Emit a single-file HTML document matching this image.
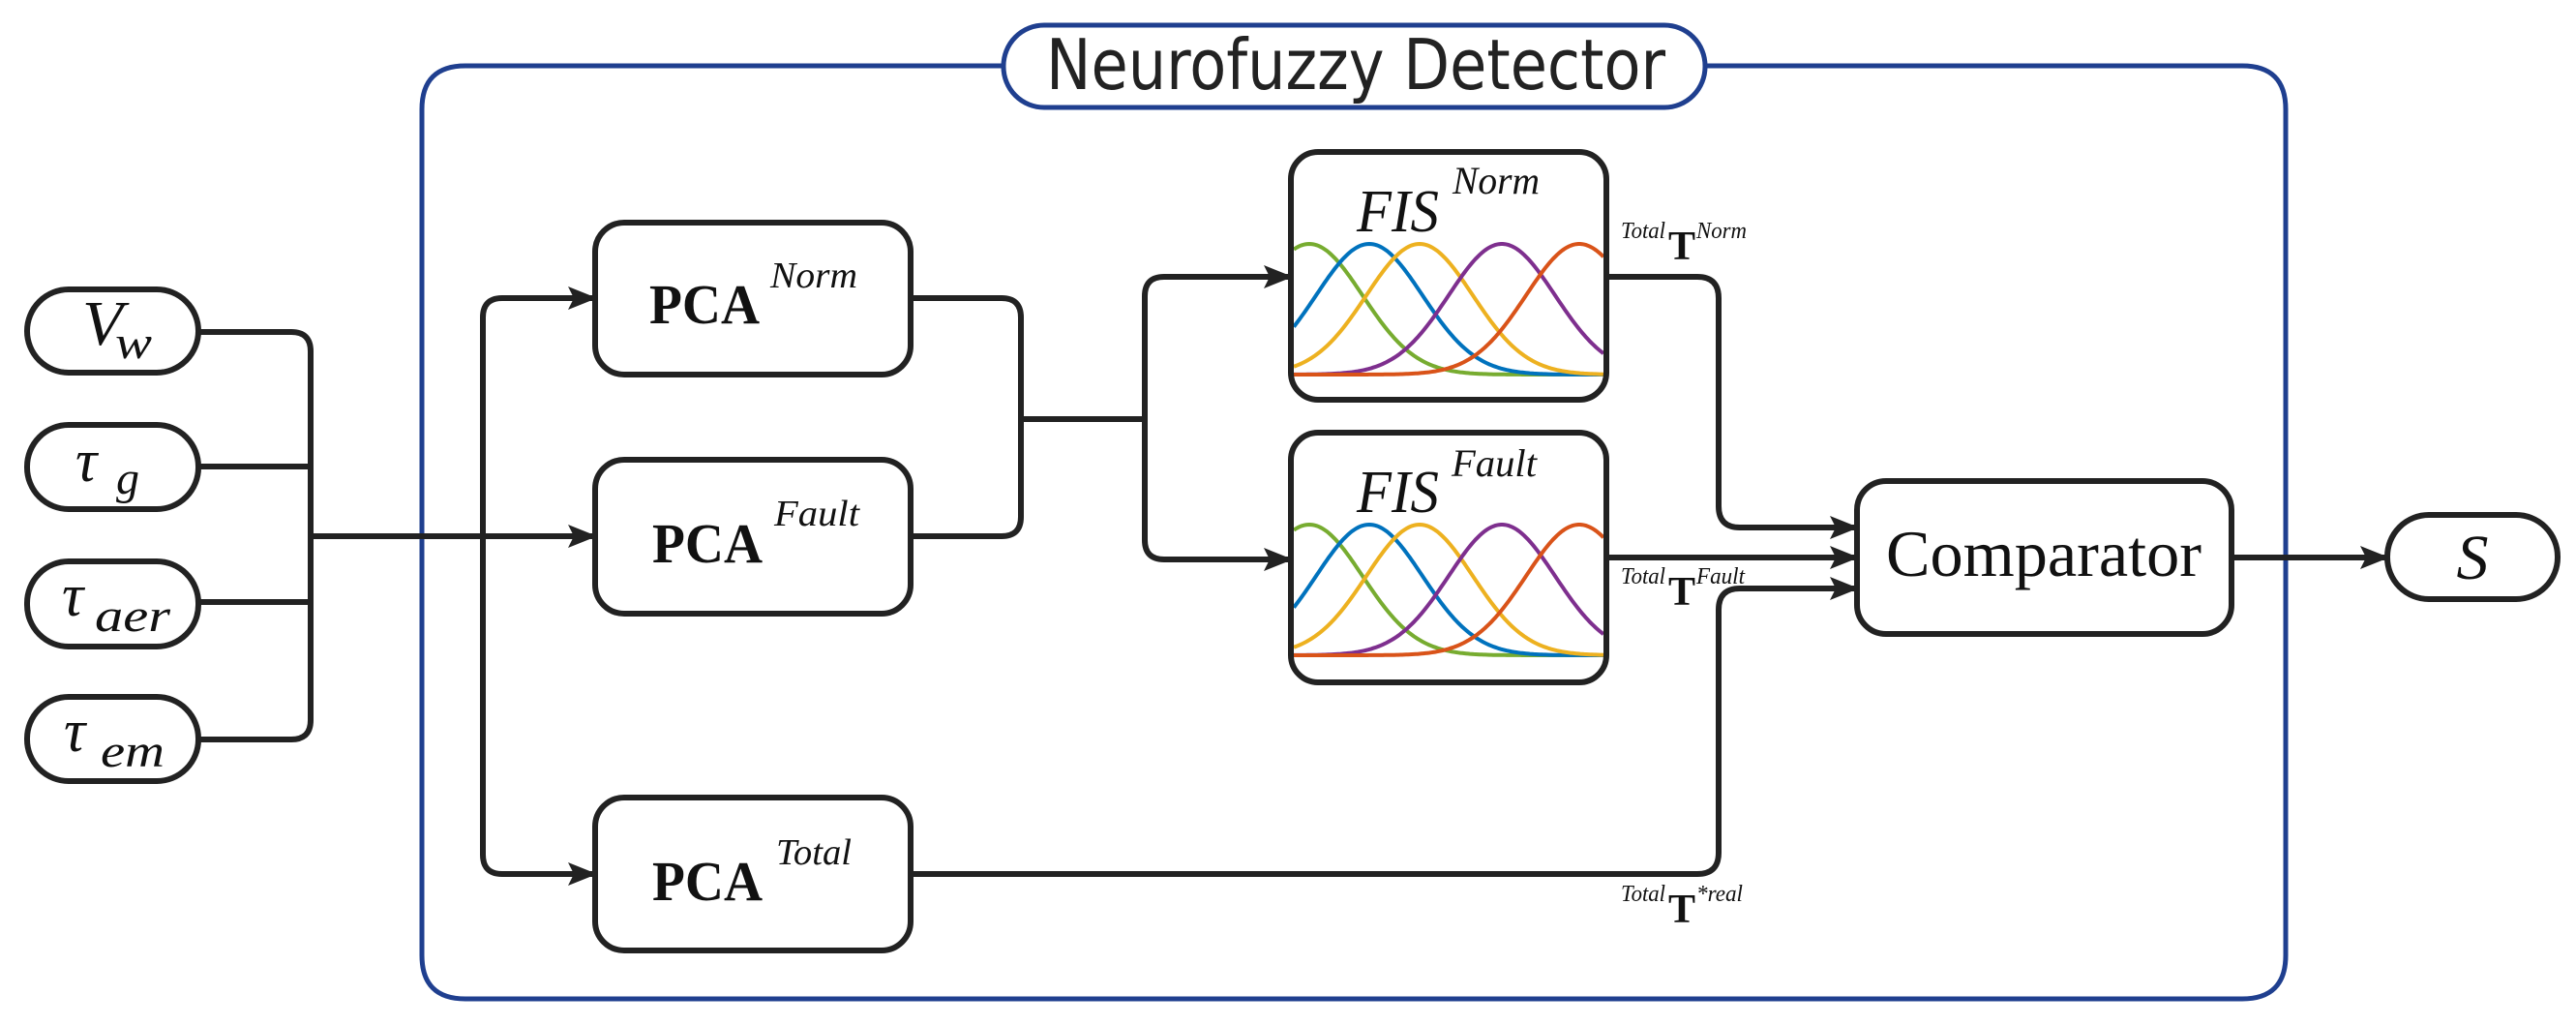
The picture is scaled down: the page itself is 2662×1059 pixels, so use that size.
<!DOCTYPE html>
<html><head><meta charset="utf-8"><style>
html,body{margin:0;padding:0;background:#fff;}
svg{display:block;}
.s{font-family:"Liberation Serif","DejaVu Serif",serif;fill:#111;}
</style></head><body>
<svg id="sv" width="2662" height="1059" viewBox="0 0 2662 1059" xmlns="http://www.w3.org/2000/svg">
<defs>
<marker id="ar" markerWidth="30" markerHeight="24" refX="28" refY="12" orient="auto" markerUnits="userSpaceOnUse">
<path d="M0,0 L30,12 L0,24 L6,12 Z" fill="#222"/>
</marker>
</defs>
<path d="M1040,68 L481,68 Q436,68 436,113 L436,987 Q436,1032 481,1032 L2317,1032 Q2362,1032 2362,987 L2362,113 Q2362,68 2317,68 L1760,68" fill="none" stroke="#1f3f8f" stroke-width="5"/>
<rect x="1037" y="26" width="725" height="85" rx="42" fill="#fff" stroke="#1f3f8f" stroke-width="5"/>
<text x="1081" y="92" textLength="640" lengthAdjust="spacingAndGlyphs" font-family="'DejaVu Sans','Liberation Sans',sans-serif" font-size="72" fill="#222">Neurofuzzy Detector</text>

<g fill="none" stroke="#222" stroke-width="6">
<rect x="28" y="299" width="177" height="86" rx="43" fill="#fff"/>
<rect x="28" y="439" width="177" height="87" rx="43" fill="#fff"/>
<rect x="28" y="580" width="177" height="88" rx="43" fill="#fff"/>
<rect x="28" y="720" width="177" height="87" rx="43" fill="#fff"/>
<path d="M205,343 L301,343 Q321,343 321,363 L321,744 Q321,764 301,764 L205,764"/>
<path d="M205,482 L321,482 M205,622 L321,622"/>
<path d="M321,554 L615,554" marker-end="url(#ar)"/>
<path d="M615,308 L519,308 Q499,308 499,328 L499,883 Q499,903 519,903 L615,903" />
<path d="M560,308 L615,308" marker-end="url(#ar)"/>
<path d="M560,903 L615,903" marker-end="url(#ar)"/>
<rect x="615" y="230" width="326" height="157" rx="30" fill="#fff"/>
<rect x="615" y="475" width="326" height="159" rx="30" fill="#fff"/>
<rect x="615" y="824" width="326" height="158" rx="30" fill="#fff"/>
<path d="M941,308 L1035,308 Q1055,308 1055,328 L1055,534 Q1055,554 1035,554 L941,554"/>
<path d="M1055,433 L1183,433"/>
<path d="M1334,286 L1203,286 Q1183,286 1183,306 L1183,558 Q1183,578 1203,578 L1334,578"/>
<path d="M1290,286 L1334,286" marker-end="url(#ar)"/>
<path d="M1290,578 L1334,578" marker-end="url(#ar)"/>
<path d="M1660,286 L1754,286 Q1776,286 1776,308 L1776,523 Q1776,545 1798,545 L1919,545" marker-end="url(#ar)"/>
<path d="M1660,576 L1919,576" marker-end="url(#ar)"/>
<path d="M941,903 L1754,903 Q1776,903 1776,881 L1776,630 Q1776,608 1798,608 L1919,608" marker-end="url(#ar)"/>
<rect x="1919" y="497" width="387" height="158" rx="30" fill="#fff"/>
<path d="M2306,576 L2467,576" marker-end="url(#ar)"/>
<rect x="2467" y="532" width="176" height="87" rx="43" fill="#fff"/>
</g>

<g id="fis1"></g><g id="fis2"></g>
<rect x="1334" y="157" width="326" height="256" rx="28" fill="none" stroke="#222" stroke-width="6"/>
<rect x="1334" y="447" width="326" height="258" rx="28" fill="none" stroke="#222" stroke-width="6"/>

<g class="s">
<text x="85" y="356" font-size="66" font-style="italic" textLength="42" lengthAdjust="spacingAndGlyphs">V</text>
<text x="119" y="370" font-size="48" font-style="italic" textLength="38" lengthAdjust="spacingAndGlyphs">w</text>
<text x="78" y="497" font-size="62" font-style="italic">τ</text>
<text x="120" y="510" font-size="48" font-style="italic">g</text>
<text x="64" y="636" font-size="62" font-style="italic">τ</text>
<text x="98" y="652" font-size="48" font-style="italic" textLength="78" lengthAdjust="spacingAndGlyphs">aer</text>
<text x="66" y="776" font-size="62" font-style="italic">τ</text>
<text x="104" y="792" font-size="48" font-style="italic" textLength="66" lengthAdjust="spacingAndGlyphs">em</text>

<text x="671" y="334" font-size="58" font-weight="bold" textLength="114" lengthAdjust="spacingAndGlyphs">PCA</text>
<text x="796" y="297" font-size="38" font-style="italic" textLength="90" lengthAdjust="spacingAndGlyphs">Norm</text>
<text x="674" y="581" font-size="58" font-weight="bold" textLength="114" lengthAdjust="spacingAndGlyphs">PCA</text>
<text x="800" y="543" font-size="38" font-style="italic" textLength="88" lengthAdjust="spacingAndGlyphs">Fault</text>
<text x="674" y="930" font-size="58" font-weight="bold" textLength="114" lengthAdjust="spacingAndGlyphs">PCA</text>
<text x="802" y="893" font-size="38" font-style="italic" textLength="78" lengthAdjust="spacingAndGlyphs">Total</text>

<text x="1402" y="239" font-size="62" font-style="italic" textLength="85" lengthAdjust="spacingAndGlyphs">FIS</text>
<text x="1501" y="200" font-size="40" font-style="italic" textLength="90" lengthAdjust="spacingAndGlyphs">Norm</text>
<text x="1402" y="529" font-size="62" font-style="italic" textLength="85" lengthAdjust="spacingAndGlyphs">FIS</text>
<text x="1500" y="492" font-size="40" font-style="italic" textLength="88" lengthAdjust="spacingAndGlyphs">Fault</text>

<text x="1675" y="246" font-size="24" font-style="italic" textLength="46" lengthAdjust="spacingAndGlyphs">Total</text>
<text x="1724" y="268" font-size="42" font-weight="bold">T</text>
<text x="1753" y="246" font-size="24" font-style="italic" textLength="52" lengthAdjust="spacingAndGlyphs">Norm</text>
<text x="1675" y="603" font-size="24" font-style="italic" textLength="46" lengthAdjust="spacingAndGlyphs">Total</text>
<text x="1724" y="625" font-size="42" font-weight="bold">T</text>
<text x="1753" y="603" font-size="24" font-style="italic" textLength="50" lengthAdjust="spacingAndGlyphs">Fault</text>
<text x="1675" y="931" font-size="24" font-style="italic" textLength="46" lengthAdjust="spacingAndGlyphs">Total</text>
<text x="1724" y="953" font-size="42" font-weight="bold">T</text>
<text x="1753" y="931" font-size="24" font-style="italic" textLength="48" lengthAdjust="spacingAndGlyphs">*real</text>

<text x="1949" y="595" font-size="68" textLength="326" lengthAdjust="spacingAndGlyphs">Comparator</text>
<text x="2555" y="598" font-size="66" font-style="italic" text-anchor="middle">S</text>
</g>
</svg>
<script>
(function(){
  var cols=["#77ac30","#0072bd","#edb120","#7e2f8e","#d95319"];
  var cs=[1353,1415,1467,1552,1632];
  function draw(id,peak,base){
    var g=document.getElementById(id),ns="http://www.w3.org/2000/svg";
    for(var k=0;k<5;k++){
      var pts=[];
      for(var x=1337;x<=1657;x+=2){
        var y=base-(base-peak)*Math.exp(-Math.pow(x-cs[k],2)/(2*55*55));
        pts.push(x+","+y.toFixed(1));
      }
      var p=document.createElementNS(ns,"polyline");
      p.setAttribute("points",pts.join(" "));
      p.setAttribute("fill","none");p.setAttribute("stroke",cols[k]);p.setAttribute("stroke-width","4");
      g.appendChild(p);
    }
  }
  draw("fis1",252,387);draw("fis2",542,677);
})();
</script>
</body></html>
